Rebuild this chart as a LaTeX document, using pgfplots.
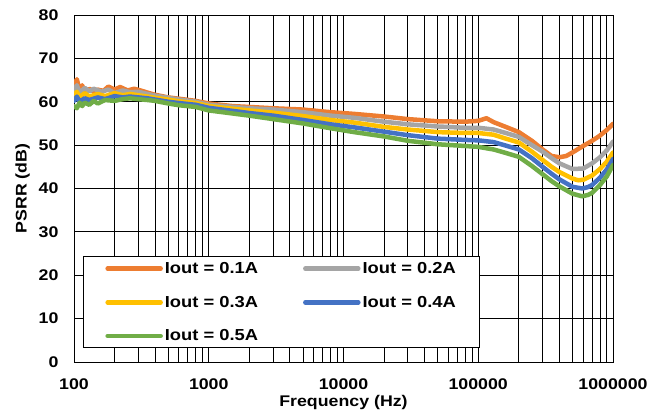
\documentclass[border=0pt]{standalone}
\usepackage{fontspec}
\setmainfont{Liberation Sans}[FakeStretch=1.15]
\usepackage{pgfplots}
\pgfplotsset{compat=1.18}
\definecolor{cA}{HTML}{ED7D31}
\definecolor{cB}{HTML}{A5A5A5}
\definecolor{cC}{HTML}{FFC000}
\definecolor{cD}{HTML}{4472C4}
\definecolor{cE}{HTML}{70AD47}
\begin{document}
\begin{tikzpicture}
\path[use as bounding box] (0,0) rectangle (649bp,416bp);
\begin{axis}[
  at={(74bp,54bp)}, anchor=south west,
  scale only axis, width=539bp, height=347bp,
  xmode=log, log basis x=10,
  xmin=100, xmax=1000000, ymin=0, ymax=80,
  ytick={0,10,...,80},
  xtick={100,1000,10000,100000,1000000},
  xticklabels={100,1000,10000,100000,1000000},
  minor xtick={200,300,400,500,600,700,800,900,2000,3000,4000,5000,6000,7000,8000,9000,20000,30000,40000,50000,60000,70000,80000,90000,200000,300000,400000,500000,600000,700000,800000,900000},
  grid=both,
  major grid style={black, line width=0.8bp},
  minor grid style={black, line width=0.8bp},
  major tick length=0pt, minor tick length=0pt,
  axis line style={black, line width=0.8bp},
  /pgf/number format/assume math mode=true,
  tick label style={font=\fontsize{15.5}{18}\selectfont\bfseries},
  yticklabel style={anchor=east, xshift=-12bp},
  xticklabel style={anchor=base, yshift=-27.5bp},
  xlabel={Frequency (Hz)}, ylabel={PSRR (dB)},
  label style={font=\fontsize{15.5}{18}\selectfont\bfseries},
  xlabel style={at={(axis description cs:0.5,0)}, anchor=base, yshift=-44.5bp},
  ylabel style={at={(axis description cs:-0.0955,0.5)}, anchor=center},
  legend columns=2,
  legend cell align=left,
  legend image code/.code={\draw[#1] (0bp,0bp) -- (53bp,0bp);},
  legend style={at={(rel axis cs:0.0167,0.04)}, anchor=south west,
    draw=black, line width=0.8bp, fill=white,
    font=\fontsize{16}{19}\selectfont\bfseries,
    inner xsep=22bp, inner ysep=3.5bp, row sep=17bp,
    /tikz/every even column/.append style={column sep=43bp}},
  every axis plot/.append style={line width=4.5bp, line join=round, line cap=round},
]
\addplot[cA] coordinates {
(100,63.5)(105,65.2)(110,62.5)(115,63.8)(120,62.0)(130,63.0)(140,62.3)(150,62.8)(165,62.5)(180,63.5)(200,62.8)(220,63.4)(250,62.6)(280,63.0)(320,62.5)(360,62.0)(400,61.6)(500,61.0)(600,60.7)(800,60.2)(1000,59.6)(1500,59.0)(2000,58.8)(3000,58.5)(5000,58.2)(8000,57.6)(12000,57.2)(20000,56.6)(30000,56.0)(50000,55.5)(80000,55.4)(100000,55.6)(115000,56.2)(130000,55.3)(160000,54.2)(200000,53.0)(250000,51.0)(300000,49.0)(350000,47.5)(400000,47.2)(450000,47.5)(500000,48.3)(600000,49.8)(700000,51.0)(800000,52.2)(900000,53.5)(1000000,54.9)
};
\addlegendentry{Iout = 0.1A}
\addplot[cB] coordinates {
(100,62.5)(105,63.8)(110,62.0)(120,63.2)(130,62.4)(140,63.0)(160,62.3)(180,62.8)(200,62.0)(230,62.6)(260,62.2)(300,62.3)(350,61.8)(400,61.4)(500,60.9)(600,60.5)(800,60.0)(1000,59.3)(1500,58.8)(2000,58.5)(3000,58.2)(5000,57.6)(8000,56.8)(12000,56.3)(20000,55.4)(30000,54.8)(50000,54.3)(80000,54.0)(100000,54.0)(130000,53.6)(160000,52.8)(200000,51.9)(250000,50.0)(300000,48.5)(350000,47.0)(400000,45.8)(500000,44.5)(600000,44.6)(700000,45.8)(800000,47.2)(900000,48.8)(1000000,50.8)
};
\addlegendentry{Iout = 0.2A}
\addplot[cC] coordinates {
(100,61.5)(105,62.3)(110,61.0)(120,62.0)(130,61.2)(150,61.8)(170,61.3)(200,62.0)(230,61.5)(260,61.8)(300,61.5)(350,61.2)(400,60.9)(500,60.5)(600,60.1)(800,59.7)(1000,59.0)(1500,58.4)(2000,58.0)(3000,57.5)(5000,56.7)(8000,55.8)(12000,55.2)(20000,54.2)(30000,53.6)(50000,53.0)(80000,52.8)(100000,52.8)(130000,52.4)(160000,51.5)(200000,50.6)(250000,48.5)(300000,46.6)(350000,45.0)(400000,43.8)(500000,42.3)(550000,41.9)(600000,42.0)(700000,43.0)(800000,44.5)(900000,46.2)(1000000,48.3)
};
\addlegendentry{Iout = 0.3A}
\addplot[cD] coordinates {
(100,60.2)(105,61.2)(110,60.0)(120,60.8)(130,60.4)(150,61.0)(170,60.6)(200,61.3)(230,61.0)(260,61.2)(300,61.0)(350,60.8)(400,60.5)(500,60.0)(600,59.7)(800,59.3)(1000,58.6)(1500,57.9)(2000,57.4)(3000,56.8)(5000,55.8)(8000,54.8)(12000,54.1)(20000,53.1)(30000,52.3)(50000,51.5)(80000,51.2)(100000,51.1)(130000,50.7)(160000,49.9)(200000,49.0)(250000,47.0)(300000,45.0)(350000,43.4)(400000,42.1)(500000,40.4)(590000,40.0)(650000,40.3)(700000,40.8)(800000,42.5)(900000,44.4)(1000000,46.8)
};
\addlegendentry{Iout = 0.4A}
\addplot[cE] coordinates {
(100,59.0)(105,58.5)(110,59.8)(115,59.0)(120,59.8)(130,59.3)(140,60.2)(150,59.6)(170,60.4)(200,60.2)(230,60.6)(260,60.8)(300,60.6)(350,60.4)(400,60.2)(500,59.6)(600,59.2)(800,58.8)(1000,58.0)(1500,57.3)(2000,56.8)(3000,56.0)(5000,55.0)(8000,53.9)(12000,53.0)(20000,52.0)(30000,51.0)(50000,50.2)(80000,49.8)(100000,49.6)(130000,49.0)(160000,48.2)(200000,47.3)(250000,45.2)(300000,43.3)(350000,41.7)(400000,40.5)(500000,38.8)(590000,38.2)(650000,38.5)(700000,39.0)(800000,40.8)(900000,42.8)(1000000,45.4)
};
\addlegendentry{Iout = 0.5A}
\end{axis}
\end{tikzpicture}
\end{document}
